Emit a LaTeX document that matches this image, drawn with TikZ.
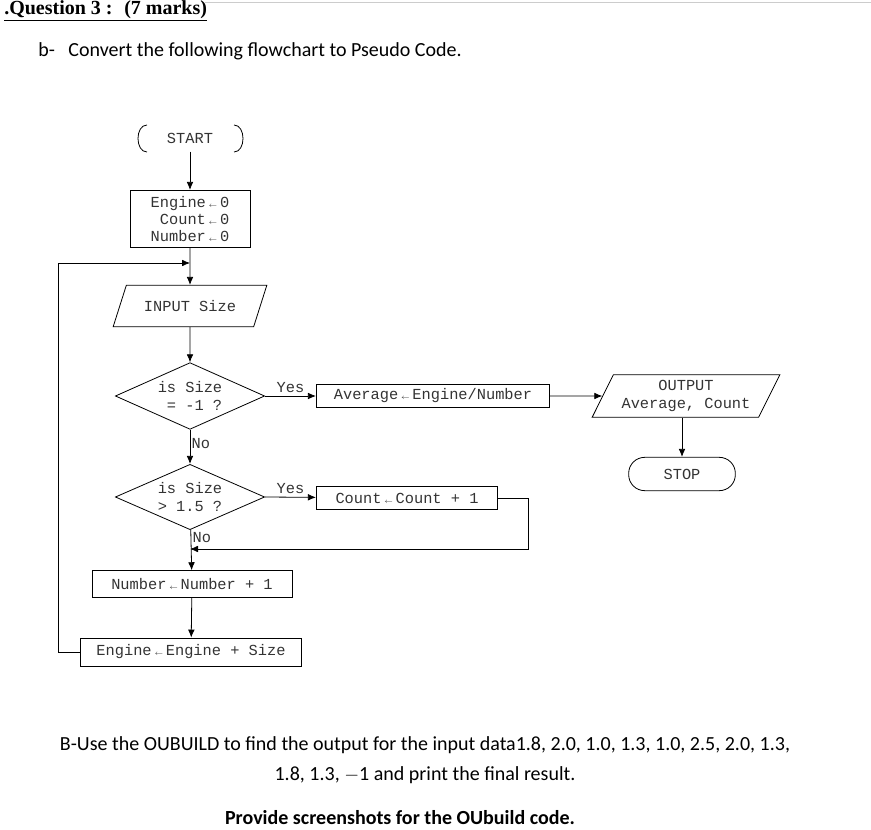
\documentclass[tikz,border=0pt]{standalone}
\usepackage{fontspec}
\setmainfont{Carlito}
\newfontfamily\mono{Liberation Mono}
\newfontfamily\tms{Liberation Serif}
\usetikzlibrary{arrows.meta,shapes.geometric}
\newcommand{\la}{\,{\tiny$\leftarrow$}\,}
\begin{document}
\begin{tikzpicture}[x=0.75pt,y=-0.75pt,
  fc/.style={font=\mono\fontsize{11.5}{13}\selectfont,text=black!80},
  box/.style={draw,fc,semithick,inner sep=1pt,align=center},
  arr/.style={semithick,-{Latex[length=6pt,width=5pt]}},
  lab/.style={fc,inner sep=1pt}]
\useasboundingbox (0,0) rectangle (871,830);
\draw[gray!40] (205,2) -- (871,2);
\node[anchor=west,font=\tms\bfseries\fontsize{15}{16}\selectfont,inner sep=0] (q) at (4,11) {\underline{.Question 3 : \ (7 marks)}};
\node[anchor=west,font=\fontsize{15}{17}\selectfont,inner sep=0] (b) at (38,51) {b-\ \ \ Convert the following flowchart to Pseudo Code.};
% START
\node[fc,minimum width=79pt,minimum height=20pt] (start) at (190,138) {START};
\draw[semithick] (147,125) .. controls (135,125) and (135,152) .. (147,152);
\draw[semithick] (234,125) .. controls (246,125) and (246,152) .. (234,152);
\node[box,align=left,minimum width=90pt,minimum height=43pt] (init) at (190,219) {Engine\la 0\\ \ Count\la 0\\Number\la 0};
\node[draw,semithick,trapezium,trapezium left angle=55,trapezium right angle=125,fc,minimum width=116pt,minimum height=31pt,inner sep=1pt,trapezium stretches=true] (inp) at (190,306) {INPUT Size};
\node[draw,semithick,diamond,fc,minimum width=112pt,minimum height=50pt,inner sep=0,align=left,shape aspect=2.2] (d1) at (190,396) {is Size\\\ = -1 ?};
\node[box,minimum width=175pt,minimum height=17pt] (avg) at (433,396) {Average\la Engine/Number};
\node[draw,semithick,trapezium,trapezium left angle=60,trapezium right angle=120,fc,minimum width=141pt,minimum height=32pt,inner sep=1pt,align=center,trapezium stretches=true] (out) at (686,396) {OUTPUT\\Average, Count};
\node[draw,semithick,rounded corners=12pt,fc,minimum width=80pt,minimum height=25pt] (stop) at (682,474) {STOP};
\node[draw,semithick,diamond,fc,minimum width=112pt,minimum height=49pt,inner sep=0,align=left,shape aspect=2.2] (d2) at (190,497) {is Size\\> 1.5 ?};
\node[box,minimum width=136pt,minimum height=17pt] (cnt) at (407,498) {Count\la Count + 1};
\node[box,minimum width=150pt,minimum height=20pt] (num) at (192,584) {Number\la Number + 1};
\node[box,minimum width=166pt,minimum height=21pt] (eng) at (191,652) {Engine\la Engine + Size};
\coordinate (j1) at (190,263);
\coordinate (j2) at (190,549);
\draw[arr] (start) -- (init);
\draw[arr] (init) -- (inp);
\draw[arr] (inp) -- (d1);
\draw[arr] (d1.east) -- node[lab,above=1pt]{Yes} (avg);
\draw[arr] (avg) -- (out);
\draw[arr] (out.south -| stop) -- (stop);
\draw[arr] (d1) -- node[lab,right,pos=0.4]{No} (d2);
\draw[arr] (d2.east) -- node[lab,above=1pt]{Yes} (cnt);
\draw[arr] (d2) -- node[lab,right,pos=0.2]{No} (num);
\draw[arr] (num) -- (eng);
\draw[arr] (cnt.east) -- ++(30,0) |- (j2);
\draw[arr] (eng.west) -- (58,652) |- (j1);
\node[font=\fontsize{15}{18}\selectfont,align=center] (t1) at (425,760) {B-Use the OUBUILD to find the output for the input data1.8, 2.0, 1.0, 1.3, 1.0, 2.5, 2.0, 1.3,\\[4pt]1.8, 1.3, $-$1 and print the final result.};
\node[font=\bfseries\fontsize{15}{17}\selectfont] (t2) at (400,818) {Provide screenshots for the OUbuild code.};
\end{tikzpicture}
\end{document}
